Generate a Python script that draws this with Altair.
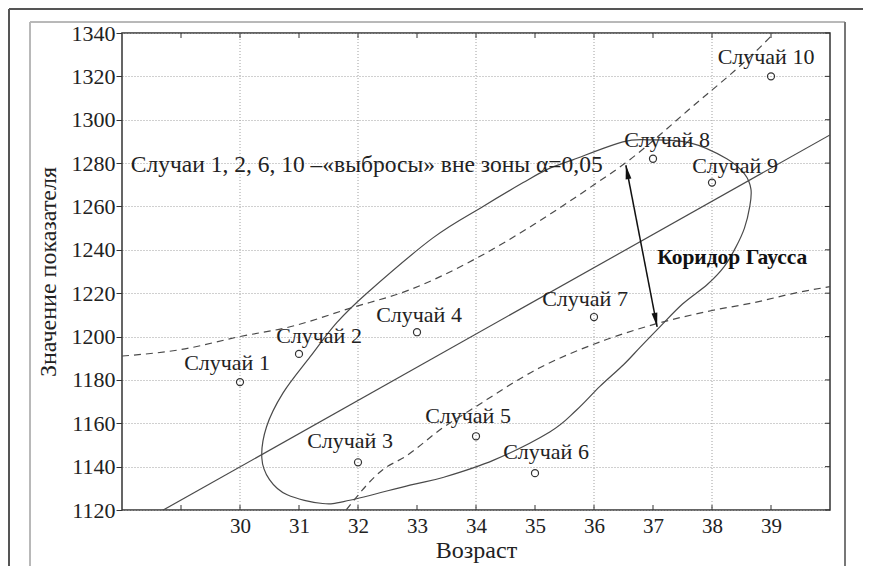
import altair as alt
import pandas as pd

# ---------------- data ----------------
cases = ["Случай 1", "Случай 2", "Случай 3", "Случай 4", "Случай 5",
         "Случай 6", "Случай 7", "Случай 8", "Случай 9", "Случай 10"]
age = [30, 31, 32, 33, 34, 35, 36, 37, 38, 39]
value = [1179, 1192, 1142, 1202, 1154, 1137, 1209, 1282, 1271, 1320]

x_ticks = [30, 31, 32, 33, 34, 35, 36, 37, 38, 39]
frame_x_ticks = [29, 30, 31, 32, 33, 34, 35, 36, 37, 38, 39]
x_grid = [30, 32, 34, 36, 38]
y_ticks = [1120, 1140, 1160, 1180, 1200, 1220, 1240, 1260, 1280, 1300, 1320, 1340]

# confidence ellipse (traced)
ell_x = [30.37, 30.5, 30.8, 31.4, 31.86, 32.88, 33.44, 34.3, 35.25, 35.7, 36.1,
         36.5, 36.78, 37.1, 37.5, 37.92, 38.2, 38.4, 38.55, 38.64, 38.66, 38.55,
         38.25, 37.63, 36.95, 36.49, 35.64, 35.2, 34.8, 34.12, 33.27, 32.15,
         31.64, 31.19, 30.73, 30.45]
ell_y = [1144, 1134, 1127, 1123, 1124.5, 1131.5, 1135, 1143, 1156, 1166, 1177,
         1187, 1195, 1204, 1215, 1224, 1232, 1241, 1250, 1260, 1268, 1275,
         1282, 1289.3, 1290.7, 1289.8, 1281.5, 1277, 1271, 1260, 1245.5, 1220,
         1206.4, 1190.7, 1174, 1158.4]

# upper dashed band
up_x = [28, 29, 30, 30.85, 31.86, 32.88, 34, 35, 36, 36.53, 37.58, 38.98, 39.05]
up_y = [1191, 1194, 1200, 1204.5, 1213, 1221.6, 1236, 1252, 1270, 1280, 1304, 1338, 1340]

# lower dashed band
lo_x = [31.8, 32.42, 32.8, 33.44, 33.9, 35.08, 36.2, 37.07, 38.0, 38.7, 39.5, 40]
lo_y = [1120, 1138.6, 1144.6, 1158, 1166, 1185.6, 1198.5, 1206, 1212, 1215.6, 1220.6, 1223]

# double arrow "Коридор Гаусса"
arrow_x = [36.54, 37.07]
arrow_y = [1279, 1204.5]

note_text = ["Случаи 1, 2, 6, 10 –«выбросы» вне зоны α=0,05"]
note_x = [28.15]
note_y = [1279]

corr_text = ["Коридор Гаусса"]
corr_x = [37.07]
corr_y = [1236]

x_title = "Возраст"
y_title = "Значение показателя"

# ---------------- chart ----------------
FONT = "Liberation Serif"
INK = "#222222"
LINE = "#4a4a4a"
W, H = 708, 477

pts = pd.DataFrame({"case": cases, "age": age, "value": value})
ell = pd.DataFrame({"x": ell_x, "y": ell_y, "i": list(range(len(ell_x)))})
up = pd.DataFrame({"x": up_x, "y": up_y})
lo = pd.DataFrame({"x": lo_x, "y": lo_y})
arr = pd.DataFrame({"x": arrow_x, "y": arrow_y})
note = pd.DataFrame({"t": note_text, "x": note_x, "y": note_y})
corr = pd.DataFrame({"t": corr_text, "x": corr_x, "y": corr_y})
gx = pd.DataFrame({"g": x_grid})
tx = pd.DataFrame({"t": frame_x_ticks})
ty = pd.DataFrame({"t": y_ticks})

xs = alt.Scale(domain=[28, 40], nice=False, zero=False)
ys = alt.Scale(domain=[1120, 1340], nice=False, zero=False)

x_axis = alt.Axis(values=x_ticks, title=x_title, grid=False, ticks=False,
                  domain=False, labelFont=FONT, labelFontSize=21,
                  labelColor=INK, labelPadding=5, titleFont=FONT,
                  titleFontSize=24, titleFontWeight="normal",
                  titleColor=INK, titlePadding=2)
y_axis = alt.Axis(values=y_ticks, format="d", title=y_title, grid=True,
                  gridDash=[1, 2], gridColor="#a0a0a0", tickSize=6,
                  tickColor="#333333", domain=False, labelFont=FONT,
                  labelFontSize=22, labelColor=INK, labelPadding=1,
                  titleFont=FONT, titleFontSize=24,
                  titleFontWeight="normal", titleColor=INK,
                  titlePadding=11)


def X(f):
    return alt.X(f, type="quantitative", scale=xs, axis=x_axis, title=x_title)


def Y(f):
    return alt.Y(f, type="quantitative", scale=ys, axis=y_axis, title=y_title)


# frames (decoration)
outer_top = alt.Chart(pts).mark_rule(color="#555555", strokeWidth=2).encode(
    x=alt.value(-113), x2=alt.value(741), y=alt.value(-24))
outer_left = alt.Chart(pts).mark_rule(color="#555555", strokeWidth=2).encode(
    x=alt.value(-113), y=alt.value(-24), y2=alt.value(540))
inner_box = alt.Chart(pts).mark_rect(fillOpacity=0, stroke="#b8b8b8", strokeWidth=1).encode(
    x=alt.value(-92), x2=alt.value(723), y=alt.value(-11), y2=alt.value(545))
inner_right = alt.Chart(pts).mark_rule(color="#777777", strokeWidth=1.5).encode(
    x=alt.value(723), y=alt.value(-11), y2=alt.value(540))

axes = alt.Chart(pts).mark_point(opacity=0).encode(x=X("age"), y=Y("value"))

vgrid = alt.Chart(gx).mark_rule(color="#a0a0a0", strokeDash=[1, 2], strokeWidth=1).encode(
    x=X("g"))

# small inward ticks on the frame
tick_bottom = alt.Chart(tx).mark_rule(color="#333333", strokeWidth=1).encode(
    x=X("t"), y=alt.value(H - 5), y2=alt.value(H))
tick_top = alt.Chart(tx).mark_rule(color="#333333", strokeWidth=1).encode(
    x=X("t"), y=alt.value(0), y2=alt.value(5))
tick_right = alt.Chart(ty).mark_rule(color="#333333", strokeWidth=1).encode(
    y=Y("t"), x=alt.value(W - 5), x2=alt.value(W))

reg = alt.Chart(pts).transform_regression(
    "age", "value", extent=[28, 40]
).mark_line(color=LINE, strokeWidth=1.2, clip=True).encode(x=X("age"), y=Y("value"))

ellipse = alt.Chart(ell).mark_line(color=LINE, strokeWidth=1.2,
                                   interpolate="cardinal-closed").encode(
    x=X("x"), y=Y("y"), order="i:Q")

upper = alt.Chart(up).mark_line(color=LINE, strokeWidth=1.2, strokeDash=[7, 5],
                                interpolate="monotone", clip=True).encode(
    x=X("x"), y=Y("y"))
lower = alt.Chart(lo).mark_line(color=LINE, strokeWidth=1.2, strokeDash=[7, 5],
                                interpolate="monotone", clip=True).encode(
    x=X("x"), y=Y("y"))

shaft = alt.Chart(arr).mark_line(color="#111111", strokeWidth=1.5).encode(
    x=X("x"), y=Y("y"))
head_path = "M0,0 L0.42,2 L-0.42,2 Z"
head_top = alt.Chart(arr.iloc[[0]]).mark_point(
    shape=head_path, filled=True, color="#111111", size=196, angle=349, opacity=1
).encode(x=X("x"), y=Y("y"))
head_bot = alt.Chart(arr.iloc[[1]]).mark_point(
    shape=head_path, filled=True, color="#111111", size=196, angle=169, opacity=1
).encode(x=X("x"), y=Y("y"))

points = alt.Chart(pts).mark_point(shape="circle", filled=False, size=50,
                                   color="#333333", strokeWidth=1.2, opacity=1).encode(
    x=X("age"), y=Y("value"))

label_shift = [(-13, -19), (20, -18), (-8, -21), (2, -17), (-8, -20),
               (11, -21), (-9, -18), (14, -19), (23, -17), (-5, -19)]
labels = []
for c, (dx, dy) in zip(cases, label_shift):
    labels.append(
        alt.Chart(pts).transform_filter(alt.datum.case == c).mark_text(
            font=FONT, fontSize=22, color=INK, align="center",
            baseline="middle", dx=dx, dy=dy
        ).encode(x=X("age"), y=Y("value"), text="case:N")
    )

note_l = alt.Chart(note).mark_text(font=FONT, fontSize=23.5, color=INK, align="left",
                                   baseline="middle").encode(
    x=X("x"), y=Y("y"), text="t:N")
corr_l = alt.Chart(corr).mark_text(font=FONT, fontSize=21.5, fontWeight="bold",
                                   color="#111111", align="left",
                                   baseline="middle").encode(
    x=X("x"), y=Y("y"), text="t:N")

chart = alt.layer(
    inner_box, outer_top, outer_left, inner_right, axes, vgrid, tick_bottom,
    tick_top, tick_right, reg, ellipse, upper, lower, shaft, head_top, head_bot,
    points, *labels, note_l, corr_l
).properties(
    width=W, height=H,
    autosize=alt.AutoSizeParams(type="none"),
    padding={"left": 114, "top": 25, "right": 33, "bottom": 56},
    background="white",
).configure_view(stroke="#333333", strokeWidth=1.5)

chart.save("out.html", embed_options={"renderer": "svg", "actions": False})
